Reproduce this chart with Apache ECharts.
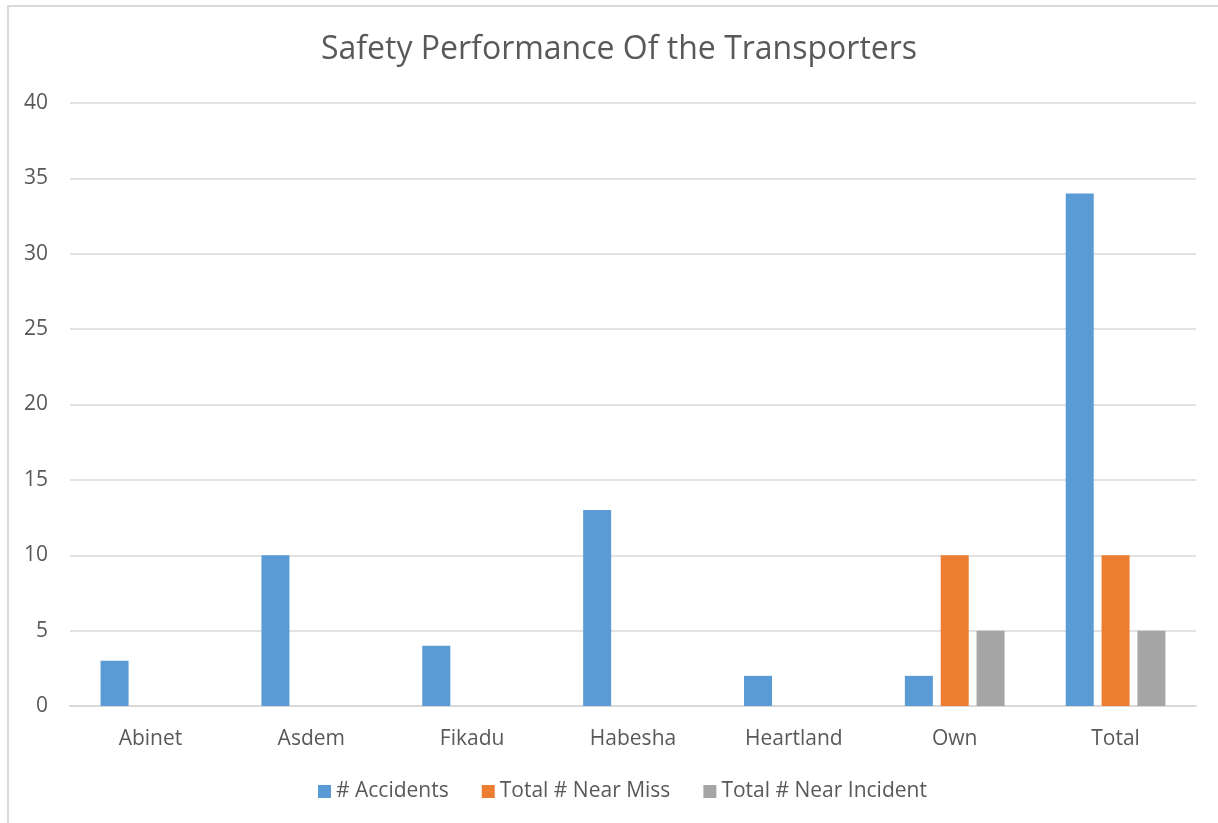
<!DOCTYPE html>
<html>
<head>
<meta charset="utf-8">
<script src="https://cdn.jsdelivr.net/npm/echarts@6/dist/echarts.min.js"></script>
<style>
html,body{margin:0;padding:0;background:#fff;}
#c{width:1218px;height:823px;}
</style>
</head>
<body>
<div id="c"></div>
<script>
const categories = ['Abinet', 'Asdem', 'Fikadu', 'Habesha', 'Heartland', 'Own', 'Total'];
const accidents = [3, 10, 4, 13, 2, 2, 34];
const nearMiss = [null, null, null, null, null, 10, 10];
const nearIncident = [null, null, null, null, null, 5, 5];
const seriesNames = ['# Accidents', 'Total # Near Miss', 'Total # Near Incident'];
const colors = ['#5b9bd5', '#ed7d31', '#a5a5a5'];

const FONT = 'Open Sans';
const chart = echarts.init(document.getElementById('c'), null, {renderer: 'canvas'});
chart.setOption({
  animation: false,
  color: colors,
  graphic: [{
    type: 'rect', left: 7, top: 5, silent: true, z: -1,
    shape: {width: 1400, height: 1000},
    style: {fill: '#fff', stroke: '#d9d9d9', lineWidth: 2}
  }],
  title: {
    text: 'Safety Performance Of the Transporters',
    left: 316, top: 29,
    textStyle: {fontFamily: FONT, fontSize: 32, fontWeight: 'normal', color: '#595959'}
  },
  legend: {
    data: seriesNames,
    bottom: 16, left: 313,
    itemWidth: 13, itemHeight: 13, itemGap: 33,
    icon: 'rect',
    textStyle: {fontFamily: FONT, fontSize: 21, color: '#595959'}
  },
  grid: {left: 70, right: 22, top: 103, bottom: 117, containLabel: false},
  xAxis: {
    type: 'category', data: categories,
    axisLine: {lineStyle: {color: '#d9d9d9', width: 2}},
    axisTick: {show: false},
    axisLabel: {fontFamily: FONT, fontSize: 21, color: '#595959', margin: 23}
  },
  yAxis: {
    type: 'value', min: 0, max: 40, interval: 5,
    axisLine: {show: false}, axisTick: {show: false},
    splitLine: {lineStyle: {color: '#d9d9d9', width: 1.5}},
    axisLabel: {fontFamily: FONT, fontSize: 21, color: '#595959', margin: 22, align: 'right'}
  },
  series: [
    {name: seriesNames[0], type: 'bar', data: accidents, barWidth: 28, barGap: '28%'},
    {name: seriesNames[1], type: 'bar', data: nearMiss, barWidth: 28, barGap: '28%'},
    {name: seriesNames[2], type: 'bar', data: nearIncident, barWidth: 28, barGap: '28%'}
  ]
});
</script>
</body>
</html>
